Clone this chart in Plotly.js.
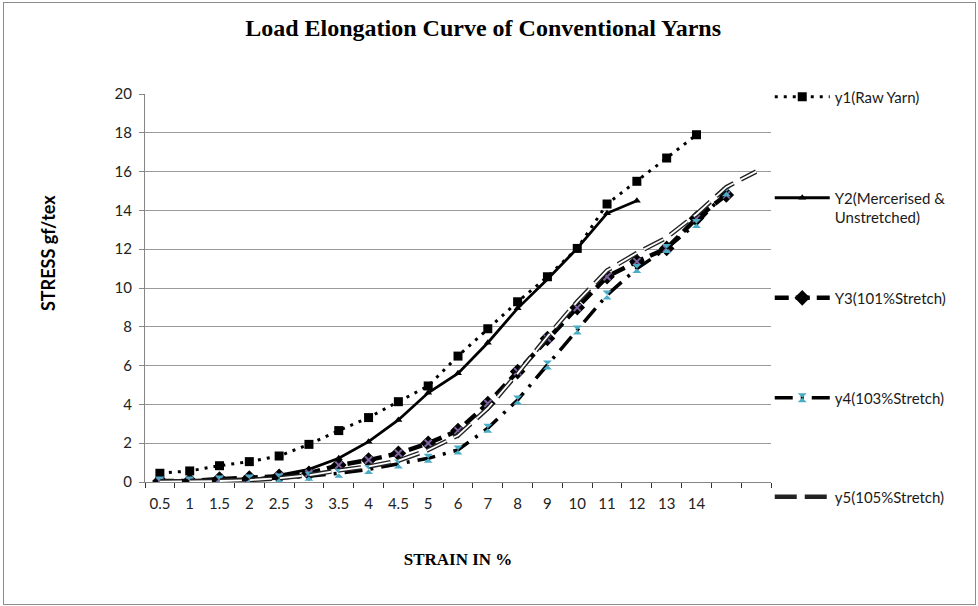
<!DOCTYPE html>
<html>
<head>
<meta charset="utf-8">
<script src="https://cdn.plot.ly/plotly-3.0.1.min.js"></script>
<style>
html,body{margin:0;padding:0;background:#fff;}
#wrap{position:relative;width:978px;height:606px;}
#chart{width:978px;height:606px;}
#frame{position:absolute;left:3px;top:2px;width:971px;height:601px;border:1px solid #8c8c8c;pointer-events:none;}
</style>
</head>
<body>
<div id="wrap"><div id="chart"></div><div id="frame"></div></div>
<script>
// Strain categories (two trailing blank categories as in the original)
const categories = ['0.5','1','1.5','2','2.5','3','3.5','4','4.5','5','6','7','8','9','10','11','12','13','14',' ','  '];

// Stress values (gf/tex)
const y1Raw = [0.45,0.57,0.84,1.05,1.34,1.94,2.65,3.32,4.14,4.95,6.49,7.9,9.29,10.58,12.04,14.33,15.5,16.7,17.9];
const y2Merc = [0.02,0.03,0.05,0.1,0.35,0.65,1.22,2.08,3.2,4.6,5.6,7.18,8.95,10.45,12.04,13.85,14.5];
const y3Str101 = [0.05,0.05,0.15,0.2,0.3,0.45,0.87,1.13,1.48,2.0,2.65,4.05,5.69,7.4,8.99,10.58,11.36,12.04,13.59,14.8];
const y4Str103 = [0.05,0.05,0.1,0.15,0.2,0.3,0.45,0.65,0.93,1.22,1.65,2.77,4.23,6.03,7.84,9.64,11.0,12.04,13.33,14.96];
const y5Str105 = [0.02,0.03,0.05,0.1,0.2,0.35,0.6,0.8,1.1,1.65,2.4,3.8,5.6,7.5,9.3,10.9,11.8,12.6,13.8,15.2,16.0];

const names = ['y1(Raw Yarn)','Y2(Mercerised &<br>Unstretched)','Y3(101%Stretch)','y4(103%Stretch)','y5(105%Stretch)'];

const xs = arr => categories.slice(0, arr.length);

const traces = [
  {x: xs(y1Raw), y: y1Raw, name: names[0], mode: 'lines+markers', legend: 'legend',
   line: {color: '#000', width: 3, dash: '3px,6px'},
   marker: {symbol: 'square', size: 9, color: '#000'}},
  {x: xs(y2Merc), y: y2Merc, name: names[1], mode: 'lines+markers', legend: 'legend2',
   line: {color: '#000', width: 2.8},
   marker: {symbol: 'triangle-up', size: 7, color: '#000'}},
  {x: xs(y3Str101), y: y3Str101, name: names[2], mode: 'lines+markers', legend: 'legend3',
   line: {color: '#000', width: 4.5, dash: '14px,7px'},
   marker: {symbol: 'diamond', size: 12, color: '#000'}},
  {x: xs(y3Str101), y: y3Str101, name: names[2], mode: 'markers', showlegend: false,
   marker: {symbol: 'x-thin', size: 7, line: {color: '#8064A2', width: 2}}},
  {x: xs(y4Str103), y: y4Str103, name: names[3], mode: 'lines+markers', legend: 'legend4',
   line: {color: '#000', width: 3.5, dash: '18px,8px,3px,8px'},
   marker: {symbol: 'hourglass', size: 9, color: '#4BACC6'}},
  {x: xs(y5Str105), y: y5Str105, name: names[4], mode: 'lines', legend: 'legend5',
   line: {color: '#222', width: 4.6, dash: '22px,8px'}},
  {x: xs(y5Str105), y: y5Str105, name: names[4], mode: 'lines', showlegend: false,
   line: {color: '#fff', width: 1.8, dash: '22px,8px'}}
];

const legFont = {family: 'Lato, Carlito, sans-serif', size: 15, color: '#1a1a1a'};
function leg(y){
  return {x: 0.998, xanchor: 'left', y: y, yanchor: 'middle', font: legFont,
          bgcolor: 'rgba(0,0,0,0)', itemwidth: 55, valign: 'top'};
}

const layout = {
  width: 978, height: 606,
  margin: {l: 145, r: 207, t: 94, b: 124},
  paper_bgcolor: '#fff', plot_bgcolor: '#fff',
  showlegend: true,
  title: {text: 'Load Elongation Curve of Conventional Yarns', x: 0.494, xref: 'container',
          y: 0.955, yanchor: 'middle', yref: 'container',
          font: {family: 'Liberation Serif, Times New Roman, serif', size: 24, color: '#000', weight: 'bold'}},
  xaxis: {type: 'category', categoryorder: 'array', categoryarray: categories,
          tickson: 'boundaries', ticks: 'outside', ticklen: 5, tickcolor: '#333',
          ticklabelstandoff: 8, tickangle: 0,
          showgrid: false, showline: true, linecolor: '#868686', linewidth: 1,
          tickfont: {family: 'Lato, sans-serif', size: 15, color: '#222'},
          range: [-0.5, categories.length - 0.5], fixedrange: true,
          title: {text: 'STRAIN IN %', standoff: 42,
                  font: {family: 'Liberation Serif, Times New Roman, serif', size: 17, color: '#000', weight: 'bold'}}},
  yaxis: {range: [0, 20], dtick: 2, ticks: 'outside', ticklen: 5, tickcolor: '#868686',
          ticklabelstandoff: 4,
          showgrid: true, gridcolor: '#9a9a9a', gridwidth: 1,
          showline: true, linecolor: '#868686', linewidth: 1, zeroline: false,
          tickfont: {family: 'Lato, sans-serif', size: 15, color: '#222'}},
  annotations: [{text: 'STRESS gf/tex', xref: 'paper', yref: 'paper', x: -0.155, y: 0.59,
                 xanchor: 'center', yanchor: 'middle', textangle: -90, showarrow: false,
                 font: {family: 'Lato, sans-serif', size: 18, color: '#000', weight: 'bold'}}],
  legend: leg(0.992),
  legend2: leg(0.7075),
  legend3: leg(0.474),
  legend4: leg(0.2165),
  legend5: leg(-0.0387)
};

Plotly.newPlot('chart', traces, layout, {displayModeBar: false, staticPlot: true});
</script>
</body>
</html>
